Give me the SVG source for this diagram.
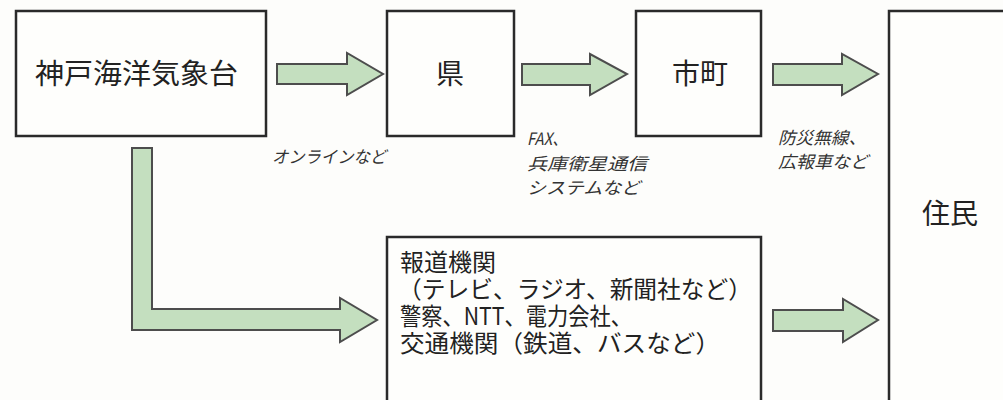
<svg xmlns="http://www.w3.org/2000/svg" width="1003" height="400" viewBox="0 0 1003 400">
<style>
.box{fill:#fefefc;stroke:#2a2a2a;stroke-width:2.5}
.arr{fill:#c4dfbf;stroke:#4d4d4d;stroke-width:2;stroke-linejoin:miter}
.t{font-family:"Noto Sans CJK JP","Noto Sans CJK SC",sans-serif;fill:#222}
.big{font-size:28px}
.mid{font-size:24px}
.lbl{font-size:17px;font-style:italic;fill:#333}
</style>
<rect width="1003" height="400" fill="#fdfdfb"/>
<g id="connectors">
<polygon class="arr" points="277,64 347,64 347,53 383,74 347,95 347,84 277,84"/>
<polygon class="arr" points="522,64 590,64 590,54 627,74 590,95 590,85 522,85"/>
<polygon class="arr" points="773,64 842,64 842,54 878,74 842,95 842,85 773,85"/>
<polygon class="arr" points="773,310 843,310 843,299 878,320 843,342 843,331 773,331"/>
<polygon class="arr" points="132,148 152,148 152,309 340,309 340,298 377,320 340,342 340,330 132,330"/>
<text class="t lbl" x="272" y="163" textLength="114" lengthAdjust="spacingAndGlyphs">オンラインなど</text>
<text class="t lbl" x="527" y="145" textLength="40" lengthAdjust="spacingAndGlyphs">FAX、</text>
<text class="t lbl" x="527" y="170" textLength="120" lengthAdjust="spacingAndGlyphs">兵庫衛星通信</text>
<text class="t lbl" x="527" y="194" textLength="113" lengthAdjust="spacingAndGlyphs">システムなど</text>
<text class="t lbl" x="778" y="144" textLength="88" lengthAdjust="spacingAndGlyphs">防災無線、</text>
<text class="t lbl" x="778" y="168" textLength="90" lengthAdjust="spacingAndGlyphs">広報車など</text>
</g>
<g id="kobe">
<rect class="box" x="16" y="11" width="250" height="125"/>
<text class="t big" x="35" y="84" textLength="203" lengthAdjust="spacingAndGlyphs">神戸海洋気象台</text>
</g>
<g id="ken">
<rect class="box" x="387" y="11" width="127" height="125"/>
<text class="t big" x="450" y="84" text-anchor="middle">県</text>
</g>
<g id="shicho">
<rect class="box" x="636" y="11" width="125" height="125"/>
<text class="t big" x="700" y="84" text-anchor="middle">市町</text>
</g>
<g id="jumin">
<rect class="box" x="889" y="11" width="130" height="410"/>
<text class="t big" x="950" y="224" text-anchor="middle">住民</text>
</g>
<g id="media">
<rect class="box" x="387" y="237" width="374" height="180"/>
<text class="t mid" x="400" y="271">報道機関</text>
<text class="t mid" x="398" y="298" textLength="354" lengthAdjust="spacingAndGlyphs">（テレビ、ラジオ、新聞社など）</text>
<text class="t mid" x="400" y="325" textLength="232" lengthAdjust="spacingAndGlyphs">警察、NTT、電力会社、</text>
<text class="t mid" x="400" y="352" textLength="320" lengthAdjust="spacingAndGlyphs">交通機関（鉄道、バスなど）</text>
</g>
</svg>
